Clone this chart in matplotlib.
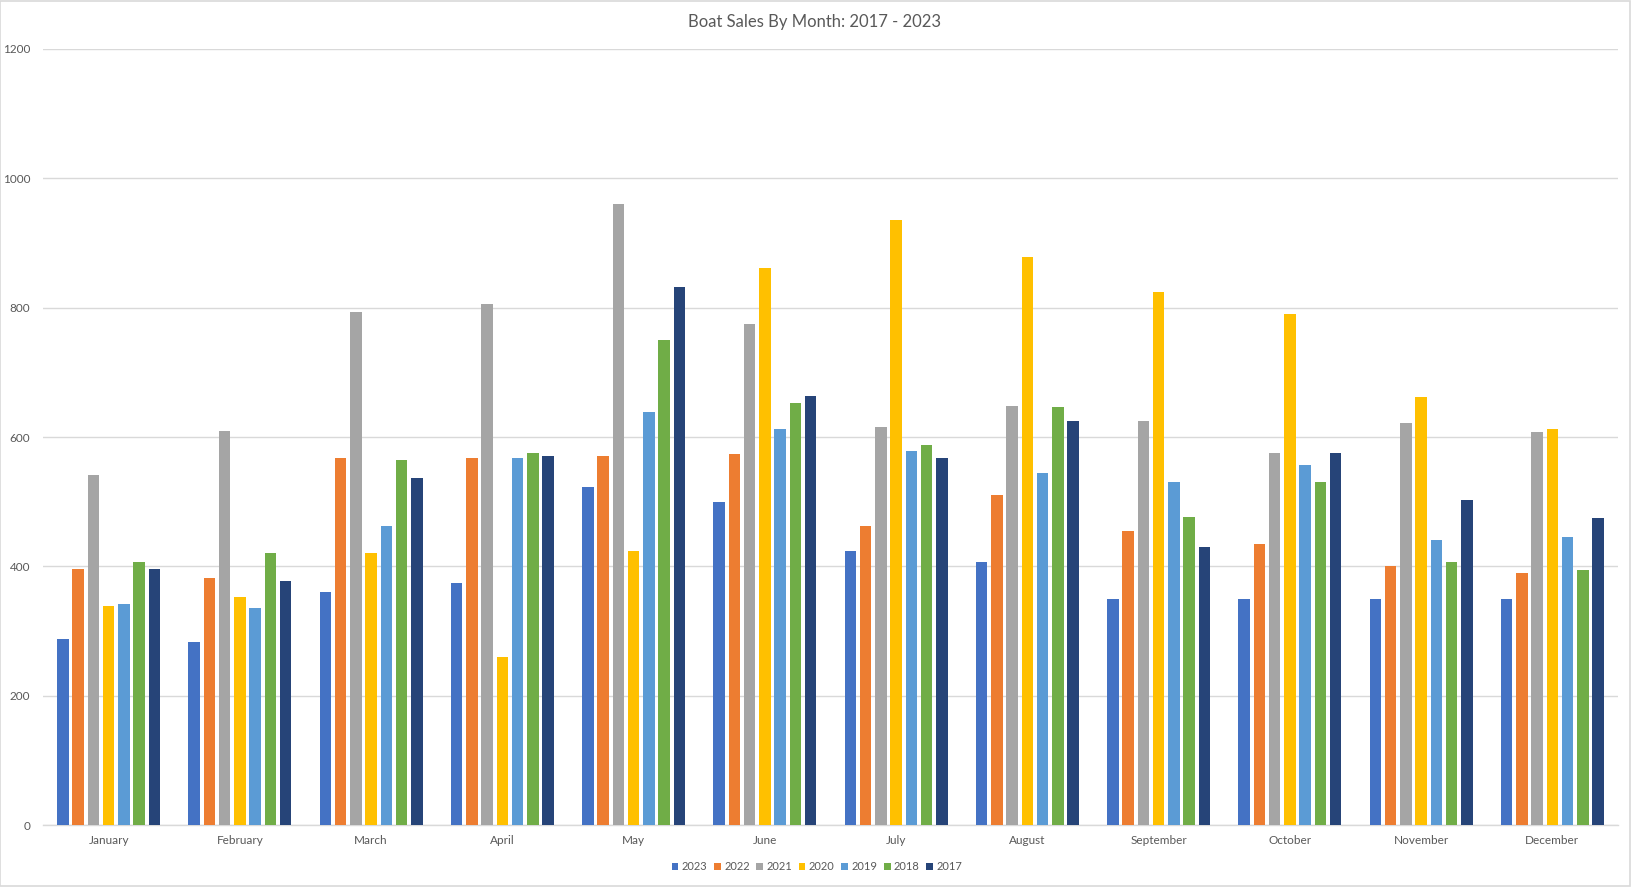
import numpy as np
import matplotlib
matplotlib.use("Agg")
import matplotlib.pyplot as plt

months = ["January", "February", "March", "April", "May", "June", "July",
          "August", "September", "October", "November", "December"]
years = ["2023", "2022", "2021", "2020", "2019", "2018", "2017"]

sales_2023 = [288, 283, 360, 375, 523, 500, 423, 407, 350, 350, 350, 350]
sales_2022 = [396, 382, 567, 568, 570, 573, 462, 510, 454, 435, 400, 390]
sales_2021 = [542, 610, 793, 806, 960, 775, 616, 648, 624, 575, 621, 608]
sales_2020 = [338, 352, 420, 260, 423, 862, 936, 879, 824, 790, 662, 613]
sales_2019 = [342, 335, 462, 568, 638, 612, 578, 544, 530, 556, 440, 445]
sales_2018 = [407, 420, 564, 576, 750, 652, 587, 647, 477, 530, 407, 395]
sales_2017 = [396, 378, 537, 570, 832, 664, 568, 625, 430, 575, 503, 474]

series = [sales_2023, sales_2022, sales_2021, sales_2020, sales_2019, sales_2018, sales_2017]
colors = ["#4472C4", "#ED7D31", "#A5A5A5", "#FFC000", "#5B9BD5", "#70AD47", "#264478"]

plt.rcParams['font.family'] = ['Lato', 'DejaVu Sans']

fig = plt.figure(figsize=(16.32, 8.89), dpi=100)
ax = fig.add_axes([43 / 1632, 1 - 825 / 889, (1618 - 43) / 1632, (825 - 49) / 889])

x = np.arange(len(months))
step = 0.116
width = 0.088
for i, (vals, col, yr) in enumerate(zip(series, colors, years)):
    ax.bar(x + (i - 3) * step, vals, width=width, color=col, label=yr, zorder=3)

ax.set_xlim(-0.5, 11.5)
ax.set_ylim(0, 1200)
ax.set_yticks(range(0, 1201, 200))
ax.set_xticks(x)
ax.set_xticklabels(months)
ax.tick_params(axis='both', length=0, labelsize=8.5, labelcolor="#595959")
ax.tick_params(axis='x', pad=7)
ax.tick_params(axis='y', pad=9)
ax.grid(axis='y', color="#D9D9D9", linewidth=1, zorder=0)
for side in ["top", "right", "left"]:
    ax.spines[side].set_visible(False)
ax.spines["bottom"].set_color("#D9D9D9")
ax.spines["bottom"].set_linewidth(1)

fig.text(815 / 1632, 1 - 22 / 889, "Boat Sales By Month: 2017 - 2023", ha='center', va='center',
         fontsize=12, color="#595959")

leg = fig.legend(loc='center', bbox_to_anchor=(817 / 1632, 1 - 867 / 889), ncol=7, frameon=False,
                 fontsize=8, handlelength=0.6, handleheight=0.6, handletextpad=0.3, columnspacing=0.6)
for t in leg.get_texts():
    t.set_color("#595959")

# outer chart border
fig.add_artist(plt.Rectangle((0, 0.003), 0.999, 0.996, fill=False, edgecolor="#D9D9D9",
                             linewidth=1.2, transform=fig.transFigure))

fig.savefig("out.png", dpi=100, facecolor="white")
